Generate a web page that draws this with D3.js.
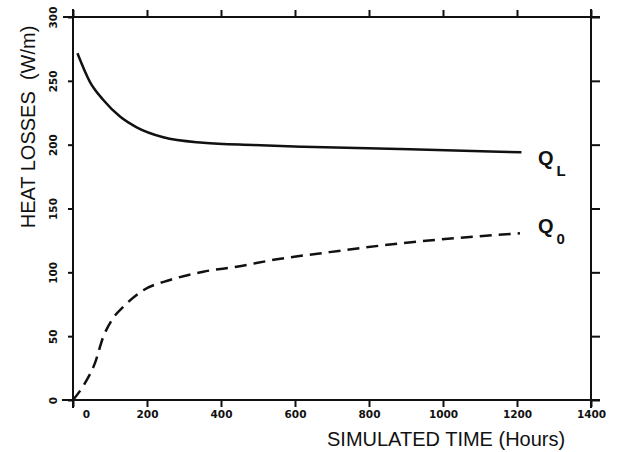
<!DOCTYPE html>
<html>
<head>
<meta charset="utf-8">
<script src="https://cdn.jsdelivr.net/npm/d3@7.9.0/dist/d3.min.js"></script>
<style>
  body { margin: 0; background: #fff; }
  svg { display: block; }
  .tick text { font-family: "DejaVu Sans", sans-serif; font-weight: bold; font-size: 10.5px; fill: #111; }
  .title { font-family: "Liberation Sans", Arial, sans-serif; font-size: 20px; fill: #111; }
</style>
</head>
<body>
<svg id="chart" width="621" height="452"></svg>
<script>
// curve readings (hours, W/m)
const hoursQL = [12, 46, 82, 127, 172, 244, 352, 487, 622, 911, 1212];
const heatQL  = [271.6, 249, 235, 222, 213.6, 205.8, 201.5, 199.7, 198.4, 196.4, 194];

const hoursQ0 = [0, 32, 59, 82, 105, 136, 190, 262, 352, 442, 551, 690, 884, 1208];
const heatQ0  = [0, 13, 28.7, 49.6, 62.7, 73, 86, 94, 100.5, 104.4, 110.2, 115.7, 122.7, 130.6];

const xTicks = [0, 200, 400, 600, 800, 1000, 1200, 1400];
const yTicks = [0, 50, 100, 150, 200, 250, 300];

const svg = d3.select("#chart");
const plotLeft = 73, plotRight = 591, plotTop = 17, plotBottom = 400;

const x = d3.scaleLinear().domain([0, 1400]).range([plotLeft, plotRight]);
const y = d3.scaleLinear().domain([0, 300]).range([plotBottom, plotTop]);
const fmt = d3.format("d");

// frame, lines run a little past the corners like the original
const frame = svg.append("g").attr("stroke", "#111").attr("stroke-width", 2);
frame.append("line").attr("x1", plotLeft - 11).attr("x2", plotRight + 9).attr("y1", plotBottom).attr("y2", plotBottom);
frame.append("line").attr("x1", plotLeft - 10).attr("x2", plotRight + 9).attr("y1", plotTop).attr("y2", plotTop);
frame.append("line").attr("x1", plotLeft).attr("x2", plotLeft).attr("y1", plotTop - 8).attr("y2", plotBottom + 8);
frame.append("line").attr("x1", plotRight).attr("x2", plotRight).attr("y1", plotTop - 8).attr("y2", plotBottom + 8);

function styleAxis(g) {
  g.select(".domain").remove();
  g.selectAll(".tick line").attr("stroke", "#111").attr("stroke-width", 2);
}

// bottom axis
const xAxis = svg.append("g")
  .attr("transform", `translate(0,${plotBottom})`)
  .call(d3.axisBottom(x).tickValues(xTicks).tickFormat(fmt).tickSize(7).tickSizeOuter(0))
  .call(styleAxis);
xAxis.selectAll(".tick text").attr("y", 18).attr("dy", null);
xAxis.selectAll(".tick text").filter(d => d === 0).attr("dx", 13);

// top axis, ticks only
svg.append("g")
  .attr("transform", `translate(0,${plotTop})`)
  .call(d3.axisTop(x).tickValues(xTicks).tickSize(7).tickFormat(""))
  .call(styleAxis);

// left axis with rotated labels
const yAxis = svg.append("g")
  .attr("transform", `translate(${plotLeft},0)`)
  .call(d3.axisLeft(y).tickValues(yTicks).tickFormat(fmt).tickSize(5).tickSizeOuter(0))
  .call(styleAxis);
yAxis.selectAll(".tick text")
  .attr("x", null).attr("dy", null)
  .attr("text-anchor", "middle")
  .attr("transform", "translate(-16,0) rotate(-90)");

// right axis, ticks only
svg.append("g")
  .attr("transform", `translate(${plotRight},0)`)
  .call(d3.axisRight(y).tickValues(yTicks).tickSize(9).tickFormat(""))
  .call(styleAxis);

const line = d3.line()
  .x(d => x(d[0]))
  .y(d => y(d[1]))
  .curve(d3.curveMonotoneX);

svg.append("path")
  .datum(d3.zip(hoursQL, heatQL))
  .attr("d", line)
  .attr("fill", "none")
  .attr("stroke", "#111")
  .attr("stroke-width", 2.5);

svg.append("path")
  .datum(d3.zip(hoursQ0, heatQ0))
  .attr("d", line)
  .attr("fill", "none")
  .attr("stroke", "#111")
  .attr("stroke-width", 2.5)
  .attr("stroke-dasharray", "12,7");

// curve labels
function curveLabel(px, py, main, sub) {
  const t = svg.append("text").attr("class", "title")
    .attr("x", px).attr("y", py).attr("font-size", 18).attr("font-weight", "bold");
  t.append("tspan").text(main);
  t.append("tspan").attr("dy", 11).attr("dx", 3).attr("font-size", 15).text(sub);
}
curveLabel(538, 165, "Q", "L");
curveLabel(538, 233, "Q", "0");

// axis titles
svg.append("text").attr("class", "title")
  .attr("x", 327).attr("y", 446)
  .text("SIMULATED TIME (Hours)");

svg.append("text").attr("class", "title")
  .attr("transform", "translate(35,127) rotate(-90)")
  .attr("text-anchor", "middle")
  .text("HEAT LOSSES\u00a0 (W/m)");
</script>
</body>
</html>
